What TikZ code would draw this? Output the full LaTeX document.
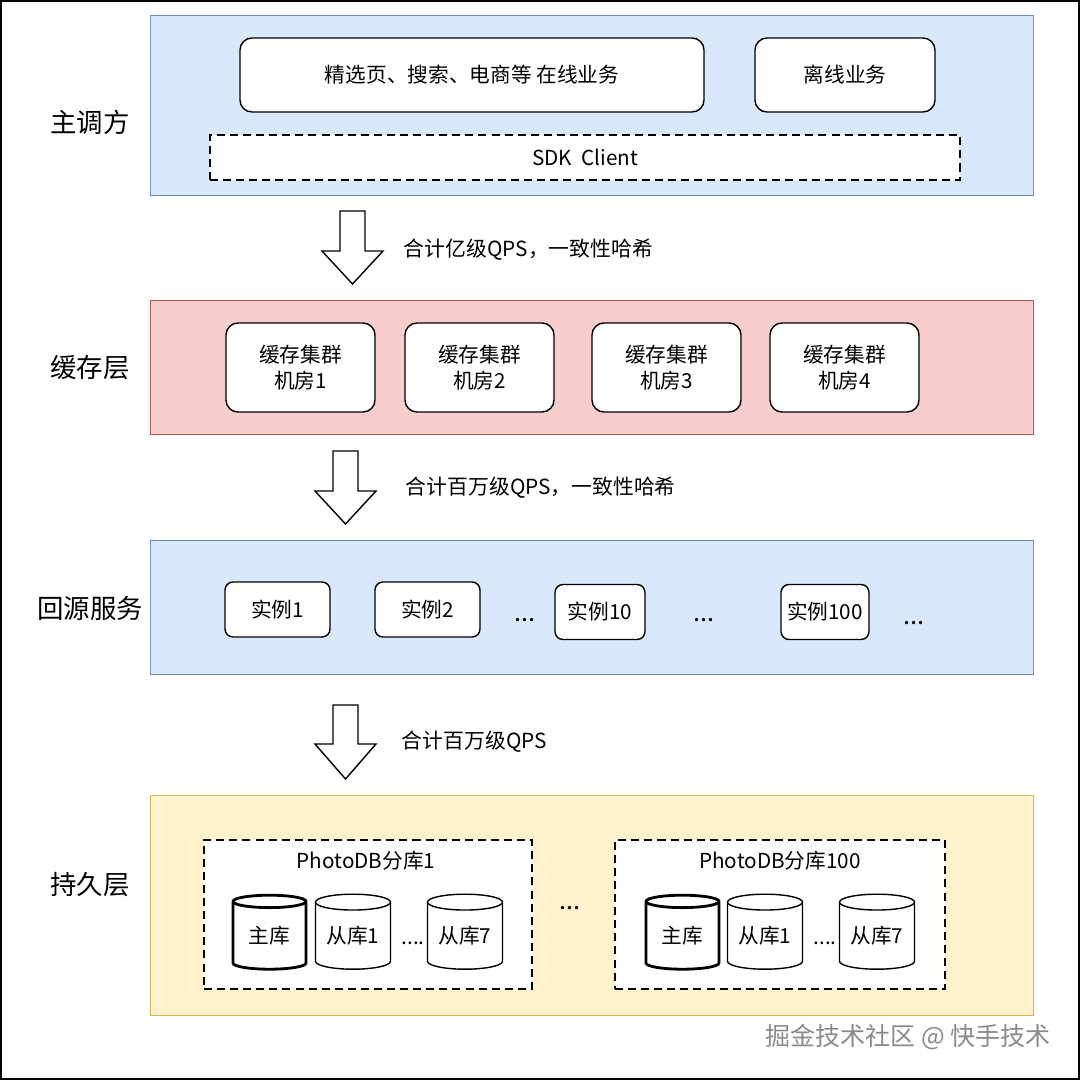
\documentclass[tikz,border=0pt]{standalone}
\usepackage{fontspec}
\setmainfont{Noto Sans CJK SC}
\usetikzlibrary{shapes.geometric}
\definecolor{CallerClr}{HTML}{DAE8FC}
\definecolor{CallerLineClr}{HTML}{6C8EBF}
\definecolor{CacheClr}{HTML}{F8CECC}
\definecolor{CacheLineClr}{HTML}{B85450}
\definecolor{StoreClr}{HTML}{FFF2CC}
\definecolor{StoreLineClr}{HTML}{D6B656}
\definecolor{MarkClr}{HTML}{8A8A8A}

\begin{document}
\begin{tikzpicture}[x=0.025cm,y=-0.025cm,
  boxsize/.style 2 args={minimum width=#1*0.025cm,minimum height=#2*0.025cm},
  layer/.style={draw=#1LineClr,fill=#1Clr,line width=0.7pt,inner sep=0pt,outer sep=0pt},
  layertext/.style={font=\fontsize{18.8}{22}\selectfont},
  svcbox/.style={draw,fill=white,line width=1pt,rounded corners=0.3cm,inner sep=0pt,
    align=center,font=\fontsize{14.7}{18.5}\selectfont},
  instbox/.style={svcbox,rounded corners=0.2cm},
  dashbox/.style={draw,fill=white,line width=1pt,dash pattern=on 5.7pt off 3.6pt,inner sep=0pt},
  db/.style={cylinder,shape border rotate=90,aspect=0.3,draw,fill=white,line width=1pt,
    inner sep=0pt,font=\fontsize{14.7}{17}\selectfont},
  masterdb/.style={db,line width=2pt},
  blockarrow/.style={draw,fill=white,line width=1pt,line join=miter},
  flowtext/.style={anchor=west,font=\fontsize{14.8}{17}\selectfont},
  plain/.style={font=\fontsize{14.7}{17}\selectfont},
  gapdots/.style={anchor=base,font=\fontsize{18}{20}\selectfont}]
\useasboundingbox (0,0) rectangle (1080,1080);
\draw[line width=1.4pt] (1,1) rectangle (1079,1079);

\node[layer=Caller,boxsize={883}{180}] (caller) at (591.5,105) {};
\node[layer=Cache,boxsize={883}{134}] (cache) at (591.5,367) {};
\node[layer=Caller,boxsize={883}{134}] (origin) at (591.5,607) {};
\node[layer=Store,boxsize={883}{220}] (store) at (591.5,905) {};

\node[layertext] (callerName) at (90,122) {主调方};
\node[layertext] (cacheName) at (90,368) {缓存层};
\node[layertext] (originName) at (90,608) {回源服务};
\node[layertext] (storeName) at (90,885) {持久层};

\node[svcbox,boxsize={464}{74}] (online) at (472,75) {精选页、搜索、电商等 在线业务};
\node[svcbox,boxsize={180}{74}] (offline) at (845,75) {离线业务};
\node[dashbox,boxsize={750}{45},plain] (sdk) at (585,157.5) {SDK\ \ Client};

\node[svcbox,boxsize={149}{89}] (cacheA) at (300.5,367.5) {缓存集群\\机房1};
\node[svcbox,boxsize={149}{89}] (cacheB) at (479.5,367.5) {缓存集群\\机房2};
\node[svcbox,boxsize={149}{89}] (cacheC) at (666.5,367.5) {缓存集群\\机房3};
\node[svcbox,boxsize={149}{89}] (cacheD) at (844.5,367.5) {缓存集群\\机房4};

\node[instbox,boxsize={105}{55}] (instA) at (277.5,609.5) {实例1};
\node[instbox,boxsize={105}{55}] (instB) at (427.5,609.5) {实例2};
\node[gapdots] (dotsA) at (525,621) {...};
\node[instbox,boxsize={90}{55}] (instC) at (600,612) {实例10};
\node[gapdots] (dotsB) at (704,621) {...};
\node[instbox,boxsize={88}{55}] (instD) at (825,612) {实例100};
\node[gapdots] (dotsC) at (914,624) {...};

\node[dashbox,boxsize={328}{149}] (shardA) at (368,914.5) {};
\node[plain] (shardAName) at (366,861) {PhotoDB分库1};
\node[masterdb,boxsize={73}{74}] (masterA) at (269.5,936) {主库};
\node[db,boxsize={75}{75}] (slaveA) at (353,936) {从库1};
\node[plain,anchor=base] (gapA) at (413,944) {....};
\node[db,boxsize={75}{75}] (slaveAA) at (465,936) {从库7};

\node[gapdots] (dotsD) at (570,909) {...};

\node[dashbox,boxsize={330}{149}] (shardB) at (780,914.5) {};
\node[plain] (shardBName) at (780,861) {PhotoDB分库100};
\node[masterdb,boxsize={73}{74}] (masterB) at (682.5,936) {主库};
\node[db,boxsize={75}{75}] (slaveB) at (765,936) {从库1};
\node[plain,anchor=base] (gapB) at (825,944) {....};
\node[db,boxsize={75}{75}] (slaveBB) at (877,936) {从库7};

\coordinate (flowA) at (352.5,211);
\coordinate (flowB) at (345.5,451);
\coordinate (flowC) at (345.5,705);
\draw[blockarrow] (flowA) ++(-12.5,0) -- ++(0,40) -- ++(-18,0) -- ++(30.5,33) -- ++(30.5,-33) -- ++(-18,0) -- ++(0,-40) -- cycle;
\draw[blockarrow] (flowB) ++(-12.5,0) -- ++(0,40) -- ++(-18,0) -- ++(30.5,33) -- ++(30.5,-33) -- ++(-18,0) -- ++(0,-40) -- cycle;
\draw[blockarrow] (flowC) ++(-12.5,0) -- ++(0,39) -- ++(-18,0) -- ++(30.5,35) -- ++(30.5,-35) -- ++(-18,0) -- ++(0,-39) -- cycle;
\node[flowtext] (flowAtext) at (399,250) {合计亿级QPS，一致性哈希};
\node[flowtext] (flowBtext) at (401,488) {合计百万级QPS，一致性哈希};
\node[flowtext] (flowCtext) at (397,742) {合计百万级QPS};

\node[font=\fontsize{17.8}{20}\selectfont,text=MarkClr] (mark) at (908,1037) {掘金技术社区 @ 快手技术};
\end{tikzpicture}
\end{document}
